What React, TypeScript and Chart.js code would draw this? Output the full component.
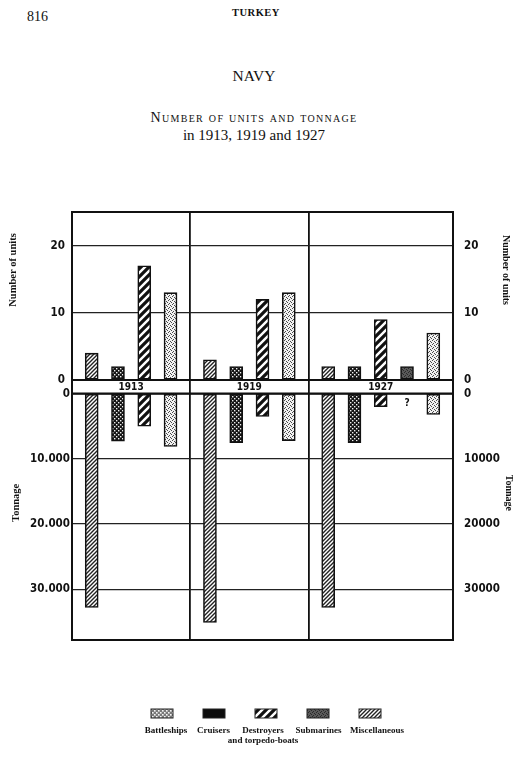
import React, { useEffect, useRef } from 'react';
import { Chart, registerables } from 'chart.js';

Chart.register(...registerables);

// ---------- data ----------
const years = ['1913', '1919', '1927'];
const shipTypes = ['Battleships', 'Cruisers', 'Destroyers and torpedo-boats', 'Submarines', 'Miscellaneous'];
const legendLines = [['Battleships'], ['Cruisers'], ['Destroyers', 'and torpedo-boats'], ['Submarines'], ['Miscellaneous']];

// number of units per ship type (null = none)
const units1913 = [4, 2, 17, null, 13];
const units1919 = [3, 2, 12, null, 13];
const units1927 = [2, 2, 9, 2, 7];

// tonnage per ship type (null = none / not known)
const tonnage1913 = [32800, 7300, 5000, null, 8100];
const tonnage1919 = [35100, 7500, 3500, null, 7200];
const tonnage1927 = [32800, 7500, 2000, null, 3200];

const unitTicks = [0, 10, 20];
const tonnageTicks = [0, 10000, 20000, 30000];
const leftTonnageLabels = ['0', '10.000', '20.000', '30.000'];
const rightTonnageLabels = ['0', '10000', '20000', '30000'];

const unitsByYear = [units1913, units1919, units1927];
const tonnageByYear = [tonnage1913, tonnage1919, tonnage1927];

// ---------- layout of slots (derived) ----------
const PAD = 0.75;
type Slot = { t: number; x: number };
type Group = { start: number; end: number; slots: Slot[] };
const groupInfo: Group[] = [];
let cursor = 0;
years.forEach((_, g) => {
  const present = shipTypes.map((_, t) => t).filter((t) => unitsByYear[g][t] != null);
  const width = present.length - 1 + 2 * PAD;
  groupInfo.push({ start: cursor, end: cursor + width, slots: present.map((t, k) => ({ t, x: cursor + PAD + k })) });
  cursor += width;
});
const xMax = cursor;
const boundaries = [0, ...groupInfo.map((g) => g.end)];

const SERIF = '"Liberation Serif", "DejaVu Serif", serif';
const NARROW = '"DejaVu Sans Condensed", "Liberation Sans Narrow", "Roboto Condensed", sans-serif';

function makePattern(kind: string): CanvasPattern | string {
  const c = document.createElement('canvas');
  const s = kind === 'bold' ? 8 : 4;
  c.width = s;
  c.height = s;
  const ctx = c.getContext('2d')!;
  const diag = (w: number, bg: string, fg: string) => {
    ctx.fillStyle = bg;
    ctx.fillRect(0, 0, s, s);
    ctx.strokeStyle = fg;
    ctx.lineWidth = w;
    ctx.beginPath();
    ctx.moveTo(-s, s);
    ctx.lineTo(s, -s);
    ctx.moveTo(-s, 2 * s);
    ctx.lineTo(2 * s, -s);
    ctx.moveTo(0, 2 * s);
    ctx.lineTo(2 * s, 0);
    ctx.stroke();
  };
  const dots = (bg: string, fg: string, pts: number[][], sz = 1) => {
    ctx.fillStyle = bg;
    ctx.fillRect(0, 0, s, s);
    ctx.fillStyle = fg;
    pts.forEach(([x, y]) => ctx.fillRect(x, y, sz, sz));
  };
  switch (kind) {
    case 'fine':
      diag(1.4, '#ffffff', '#222222');
      break;
    case 'bold':
      diag(3.2, '#ffffff', '#111111');
      break;
    case 'checker':
      dots('#151515', '#f0f0f0', [[0, 0], [2, 2]], 1.4);
      break;
    case 'dark':
      dots('#5a5a5a', '#2a2a2a', [[0, 0], [2, 1], [1, 3], [3, 2]], 1);
      break;
    case 'light':
      dots('#f2f2f2', '#4a4a4a', [[0, 0], [2, 1], [1, 3], [3, 2]], 1);
      break;
    case 'mesh':
      dots('#7a7a7a', '#f4f4f4', [[0, 0], [2, 2]], 1.6);
      break;
    case 'solid':
      return '#0d0d0d';
  }
  return ctx.createPattern(c, 'repeat')!;
}

const barPatternKinds = ['fine', 'checker', 'bold', 'dark', 'light'];
const legendPatternKinds = ['mesh', 'solid', 'bold', 'dark', 'fine'];
const legendTextShift = [4, -0.5, -3, 0.5, 7];

export default function App() {
  const ref = useRef<HTMLCanvasElement>(null);

  useEffect(() => {
    const canvas = ref.current!;
    const barPats = barPatternKinds.map(makePattern);
    const legPats = legendPatternKinds.map(makePattern);

    const datasets: any[] = [];
    shipTypes.forEach((name, t) => {
      const u: any[] = [];
      const tn: any[] = [];
      groupInfo.forEach((gi, g) => {
        gi.slots
          .filter((s) => s.t === t)
          .forEach((s) => {
            u.push({ x: s.x, y: unitsByYear[g][t] });
            const tv = tonnageByYear[g][t];
            if (tv != null) tn.push({ x: s.x, y: tv });
          });
      });
      const common = {
        backgroundColor: barPats[t],
        borderColor: '#111',
        borderWidth: 1.6,
        borderSkipped: false,
        barThickness: 13,
        grouped: false,
      };
      datasets.push({ label: name, data: u, yAxisID: 'yU', ...common });
      datasets.push({ label: name + ' (tonnage)', data: tn, yAxisID: 'yT', ...common });
    });

    const tickFont = { family: NARROW, size: 11.5, weight: 'bold' as const };
    const gridCfg = { color: '#222', lineWidth: 1.3, drawTicks: false };

    const overlay = {
      id: 'overlay',
      afterDatasetsDraw(chart: any) {
        const { ctx, chartArea: a, scales } = chart;
        const x = scales.x;
        const y0 = scales.yU.getPixelForValue(0);
        const y1 = scales.yT.getPixelForValue(0);
        ctx.save();
        ctx.strokeStyle = '#111';
        ctx.lineWidth = 2.2;
        ctx.beginPath();
        ctx.moveTo(a.left, y0);
        ctx.lineTo(a.right, y0);
        ctx.moveTo(a.left, y1);
        ctx.lineTo(a.right, y1);
        ctx.stroke();
        ctx.fillStyle = '#111';
        ctx.font = `bold 10px ${NARROW}`;
        ctx.textAlign = 'center';
        ctx.textBaseline = 'middle';
        groupInfo.forEach((gi, g) => {
          ctx.fillText(years[g], x.getPixelForValue((gi.start + gi.end) / 2), (y0 + y1) / 2 + 0.5);
          gi.slots.forEach((s) => {
            if (tonnageByYear[g][s.t] == null) {
              ctx.fillText('?', x.getPixelForValue(s.x), y1 + 10);
            }
          });
        });
        ctx.lineWidth = 2;
        ctx.strokeRect(a.left, a.top, a.right - a.left, a.bottom - a.top);
        ctx.restore();
      },
      afterDraw(chart: any) {
        const { ctx, chartArea: a, scales } = chart;
        ctx.save();
        ctx.fillStyle = '#111';
        ctx.textAlign = 'center';
        ctx.textBaseline = 'middle';
        const topMid = (a.top + scales.yU.getPixelForValue(0)) / 2;
        const botMid = (scales.yT.getPixelForValue(0) + a.bottom) / 2;
        const vText = (txt: string, cx: number, cy: number, rot: number, size: number) => {
          ctx.save();
          ctx.translate(cx, cy);
          ctx.rotate(rot);
          ctx.font = `bold ${size}px ${SERIF}`;
          ctx.fillText(txt, 0, 0);
          ctx.restore();
        };
        vText('Number of units', a.left - 59, topMid - 26, -Math.PI / 2, 10.5);
        vText('Tonnage', a.left - 56, botMid - 14, -Math.PI / 2, 10.5);
        vText('Number of units', a.right + 53, topMid - 26, Math.PI / 2, 10);
        vText('Tonnage', a.right + 56, botMid - 24, Math.PI / 2, 10);

        // legend
        const cx0 = 266;
        const step = 52;
        shipTypes.forEach((_, t) => {
          const cx = cx0 + (t - 2) * step;
          ctx.fillStyle = legPats[t] as any;
          ctx.fillRect(cx - 11, 709, 22, 9);
          ctx.strokeStyle = '#222';
          ctx.lineWidth = 1;
          ctx.strokeRect(cx - 11, 709, 22, 9);
          ctx.fillStyle = '#111';
          ctx.font = `bold 9px ${SERIF}`;
          legendLines[t].forEach((ln, i) => ctx.fillText(ln, cx + legendTextShift[t], 731 + i * 10));
        });
        ctx.restore();
      },
    };

    const chart = new Chart(canvas, {
      type: 'bar',
      data: { datasets },
      options: {
        animation: false,
        responsive: false,
        maintainAspectRatio: false,
        devicePixelRatio: 1,
        layout: { padding: { top: 212, left: 0, right: 0, bottom: 119 } },
        plugins: { legend: { display: false }, tooltip: { enabled: false } },
        scales: {
          x: {
            type: 'linear',
            min: 0,
            max: xMax,
            offset: false,
            ticks: { display: false },
            grid: { color: '#111', lineWidth: 1.8, drawTicks: false, offset: false },
            border: { display: false },
            afterBuildTicks: (s: any) => {
              s.ticks = boundaries.map((v) => ({ value: v }));
            },
            afterFit: (s: any) => {
              s.height = 0;
            },
          },
          yT: {
            type: 'linear',
            position: 'left',
            stack: 'left',
            stackWeight: 260,
            reverse: true,
            min: -2100,
            max: 37800,
            grid: gridCfg,
            border: { display: false },
            ticks: { font: tickFont, color: '#111', padding: 2, callback: (_v: any, i: number) => leftTonnageLabels[i] },
            afterBuildTicks: (s: any) => {
              s.ticks = tonnageTicks.map((v) => ({ value: v }));
            },
            afterFit: (s: any) => {
              s.width = 72;
            },
          },
          yU: {
            type: 'linear',
            position: 'left',
            stack: 'left',
            stackWeight: 168,
            min: 0,
            max: 25,
            grid: gridCfg,
            border: { display: false },
            ticks: { font: tickFont, color: '#111', padding: 7 },
            afterBuildTicks: (s: any) => {
              s.ticks = unitTicks.map((v) => ({ value: v }));
            },
            afterFit: (s: any) => {
              s.width = 72;
            },
          },
          yU2: {
            type: 'linear',
            position: 'right',
            stack: 'right',
            stackWeight: 168,
            min: 0,
            max: 25,
            grid: { display: false },
            border: { display: false },
            ticks: { font: tickFont, color: '#111', padding: 3 },
            afterBuildTicks: (s: any) => {
              s.ticks = unitTicks.map((v) => ({ value: v }));
            },
            afterFit: (s: any) => {
              s.width = 71;
            },
          },
          yT2: {
            type: 'linear',
            position: 'right',
            stack: 'right',
            stackWeight: 260,
            reverse: true,
            min: -2100,
            max: 37800,
            grid: { display: false },
            border: { display: false },
            ticks: { font: tickFont, color: '#111', padding: 3, callback: (_v: any, i: number) => rightTonnageLabels[i] },
            afterBuildTicks: (s: any) => {
              s.ticks = tonnageTicks.map((v) => ({ value: v }));
            },
            afterFit: (s: any) => {
              s.width = 71;
            },
          },
        },
      } as any,
      plugins: [overlay],
    });
    return () => chart.destroy();
  }, []);

  const abs = (top: number, extra: React.CSSProperties = {}): React.CSSProperties => ({
    position: 'absolute',
    top,
    left: 0,
    width: 508,
    textAlign: 'center',
    lineHeight: 1,
    fontFamily: SERIF,
    color: '#111',
    whiteSpace: 'nowrap',
    ...extra,
  });

  return (
    <div style={{ position: 'absolute', top: 0, left: 0, width: 524, height: 759, background: '#fff', overflow: 'hidden' }}>
      <div style={{ ...abs(10), left: 27, width: 'auto', textAlign: 'left', fontSize: 14 }}>816</div>
      <div style={abs(8, { fontSize: 10.5, fontWeight: 'bold', letterSpacing: 0.5, left: 2 })}>TURKEY</div>
      <div style={abs(68, { fontSize: 15.5 })}>NAVY</div>
      <div style={abs(111, { fontSize: 14, fontVariant: 'small-caps', letterSpacing: 1.3 })}>Number of units and tonnage</div>
      <div style={abs(127.5, { fontSize: 15 })}>in 1913, 1919 and 1927</div>
      <canvas ref={ref} width={524} height={759} style={{ position: 'absolute', top: 0, left: 0, width: 524, height: 759 }} />
    </div>
  );
}
